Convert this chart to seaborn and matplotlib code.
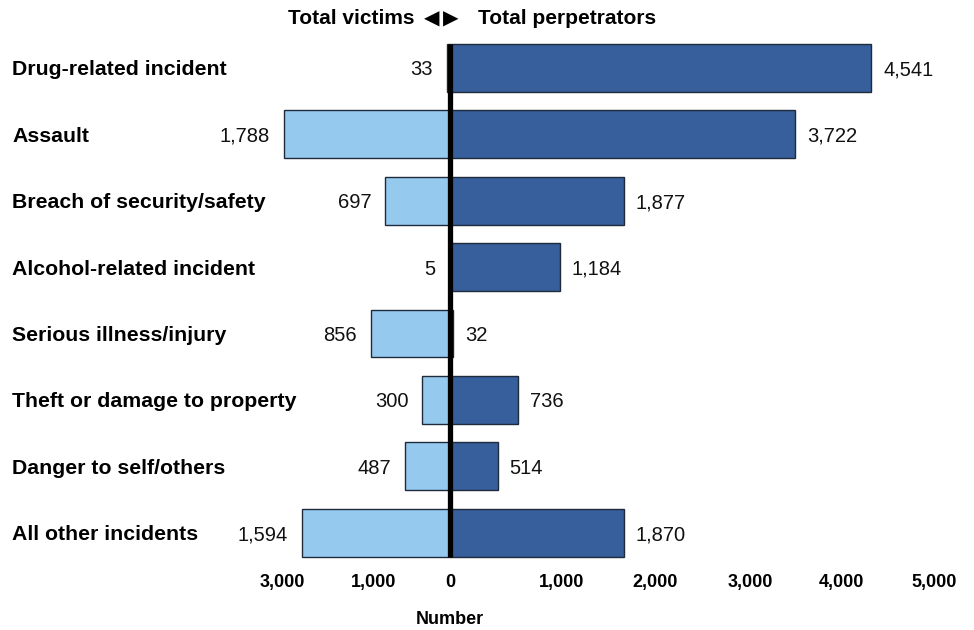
import matplotlib
matplotlib.use("Agg")
import matplotlib.pyplot as plt
import matplotlib.transforms as mtransforms
import seaborn as sns
import pandas as pd

# Incident categories and counts
categories = [
    "Drug-related incident",
    "Assault",
    "Breach of security/safety",
    "Alcohol-related incident",
    "Serious illness/injury",
    "Theft or damage to property",
    "Danger to self/others",
    "All other incidents",
]
victims = [33, 1788, 697, 5, 856, 300, 487, 1594]
perpetrators = [4541, 3722, 1877, 1184, 32, 736, 514, 1870]

# Axis tick labels as printed under the chart
tick_labels = ["3,000", "1,000", "0", "1,000", "2,000", "3,000", "4,000", "5,000"]
tick_positions = [-1810, -820, 0, 1207, 2210, 3233, 4215, 5215]

victims_color = "#95C9EE"
perpetrators_color = "#365F9C"
edge_color = "#1F2B3A"

sns.set_theme(style="white")
plt.rcParams["font.family"] = ["Liberation Sans", "DejaVu Sans"]
plt.rcParams["text.color"] = "black"
plt.rcParams["xtick.color"] = "black"
plt.rcParams["ytick.color"] = "black"

df = pd.DataFrame({
    "category": categories * 2,
    "value": [-v for v in victims] + perpetrators,
    "group": ["Total victims"] * len(categories) + ["Total perpetrators"] * len(categories),
})

fig = plt.figure(figsize=(9.74, 6.30), dpi=100)
ax = fig.add_axes([264.4 / 974, 64 / 630, 696 / 974, 531.3 / 630])

sns.barplot(
    data=df, x="value", y="category", hue="group", order=categories,
    palette={"Total victims": victims_color, "Total perpetrators": perpetrators_color},
    dodge=False, width=0.72, errorbar=None, orient="h", saturation=1,
    edgecolor=edge_color, linewidth=1.0, legend=False, ax=ax,
)

ax.set_xlim(-2000, 5500)
ax.set_ylim(len(categories) - 0.5, -0.5)

# Central zero line
ax.vlines(0, -0.36, len(categories) - 1 + 0.36, color="black", linewidth=3.8, zorder=5)

# Value labels
for i, (v, p) in enumerate(zip(victims, perpetrators)):
    ax.annotate(f"{v:,}", xy=(-v, i), xytext=(-10, 0), textcoords="offset points",
                ha="right", va="center_baseline", fontsize=14.5, color="#111111")
    ax.annotate(f"{p:,}", xy=(p, i), xytext=(8.5, 0), textcoords="offset points",
                ha="left", va="center_baseline", fontsize=14.5, color="#111111")

for s in ax.spines.values():
    s.set_visible(False)

ax.set_xticks(tick_positions)
ax.set_xticklabels(tick_labels, fontsize=13, fontweight="bold")
ax.tick_params(axis="x", length=0, pad=6)
ax.set_yticks(range(len(categories)))
ax.set_yticklabels(categories, fontsize=15.3, fontweight="bold")
ax.tick_params(axis="y", length=0, pad=(264.4 - 12) * 72 / 100)
for lbl in ax.get_yticklabels():
    lbl.set_horizontalalignment("left")
    lbl.set_verticalalignment("center_baseline")
ax.set_xlabel("")
ax.set_ylabel("")

# Axis title under the zero line
trans = mtransforms.blended_transform_factory(ax.transData, fig.transFigure)
ax.text(0, 1 - 620 / 630, "Number", transform=trans, ha="center", va="center",
        fontsize=13, fontweight="bold")

# Header with direction markers
hy = 1 - 19 / 630
fig.text(414 / 974, hy, "Total victims", ha="right", va="center", fontsize=15, fontweight="bold")
fig.text(431.5 / 974, hy, "\u25C0", ha="center", va="center", fontsize=14.5,
         family="DejaVu Sans")
fig.text(450.5 / 974, hy, "\u25B6", ha="center", va="center", fontsize=14.5,
         family="DejaVu Sans")
fig.text(478 / 974, hy, "Total perpetrators", ha="left", va="center", fontsize=15, fontweight="bold")

fig.savefig("out.png", dpi=100)
